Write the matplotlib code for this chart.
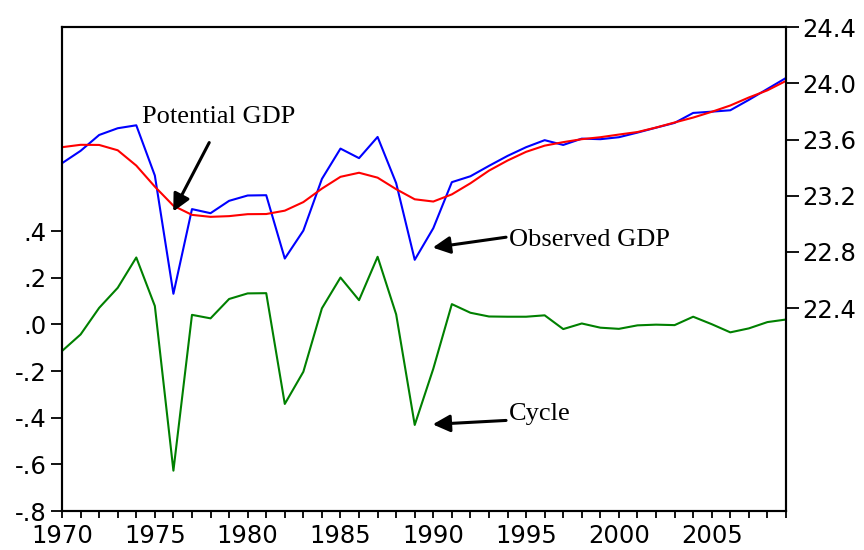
import matplotlib
matplotlib.use("Agg")
import matplotlib.pyplot as plt
from matplotlib.ticker import MultipleLocator, FixedLocator

years = list(range(1970, 2010))

# cycle (left axis)
cycle = [-0.114, -0.043, 0.071, 0.157, 0.287, 0.079, -0.627, 0.041, 0.026, 0.109,
         0.133, 0.134, -0.341, -0.203, 0.069, 0.201, 0.104, 0.290, 0.043, -0.431,
         -0.190, 0.087, 0.050, 0.034, 0.033, 0.033, 0.039, -0.020, 0.004, -0.014,
         -0.019, -0.004, -0.001, -0.003, 0.033, 0.001, -0.034, -0.017, 0.010, 0.021]

# observed GDP (right axis)
observed = [23.432, 23.520, 23.633, 23.681, 23.702, 23.344, 22.502, 23.105, 23.076, 23.164,
            23.202, 23.204, 22.753, 22.952, 23.320, 23.536, 23.468, 23.619, 23.290, 22.744,
            22.969, 23.297, 23.339, 23.413, 23.484, 23.546, 23.596, 23.562, 23.607, 23.603,
            23.617, 23.650, 23.685, 23.719, 23.790, 23.799, 23.809, 23.883, 23.961, 24.039]

# potential GDP (right axis)
potential = [23.546, 23.563, 23.562, 23.524, 23.415, 23.265, 23.129, 23.064, 23.050, 23.055,
             23.069, 23.070, 23.094, 23.155, 23.251, 23.335, 23.364, 23.329, 23.247, 23.175,
             23.159, 23.210, 23.289, 23.379, 23.451, 23.513, 23.557, 23.582, 23.603, 23.617,
             23.636, 23.654, 23.686, 23.722, 23.757, 23.798, 23.843, 23.900, 23.951, 24.018]

left_ticks = [-0.8, -0.6, -0.4, -0.2, 0.0, 0.2, 0.4]
left_labels = ["-.8", "-.6", "-.4", "-.2", ".0", ".2", ".4"]
right_ticks = [22.4, 22.8, 23.2, 23.6, 24.0, 24.4]
right_labels = ["22.4", "22.8", "23.2", "23.6", "24.0", "24.4"]

plt.rcParams['font.family'] = ['DejaVu Sans']

fig = plt.figure(figsize=(8.64, 5.5), dpi=100)
ax = fig.add_axes([0.0718, 0.0709, 0.8379, 0.8795])
ax2 = ax.twinx()

ax.plot(years, cycle, color='#008000', lw=1.5)
ax2.plot(years, observed, color='#0000ff', lw=1.5)
ax2.plot(years, potential, color='#ff0000', lw=1.5)

ax.set_xlim(1970, 2009)
ax.set_ylim(-0.8, 1.274)
ax2.set_ylim(20.955, 24.4)

ax.xaxis.set_major_locator(MultipleLocator(5))
ax.xaxis.set_minor_locator(MultipleLocator(1))
ax.yaxis.set_major_locator(FixedLocator(left_ticks))
ax.set_yticklabels(left_labels)
ax2.yaxis.set_major_locator(FixedLocator(right_ticks))
ax2.set_yticklabels(right_labels)

ax.tick_params(axis='x', which='both', direction='out', length=5, width=1.3,
               labelsize=17.5, pad=4)
ax.tick_params(axis='y', direction='out', length=8, width=1.3, labelsize=17.5, pad=3)
ax2.tick_params(axis='y', direction='out', length=9, width=1.3, labelsize=17.5, pad=3)

for a in (ax, ax2):
    for s in a.spines.values():
        s.set_linewidth(1.5)
        s.set_color('black')

serif = ['Liberation Serif', 'DejaVu Serif']
arrow = dict(arrowstyle='-|>', color='black', lw=2.2, mutation_scale=26, shrinkA=0, shrinkB=0)

ax2.text(1978.43, 23.761, "Potential GDP", family=serif, fontsize=19,
         ha='center', va='center')
ax2.annotate("", xy=(1975.99, 23.088), xytext=(1977.93, 23.579), arrowprops=arrow)

ax2.text(1994.08, 22.886, "Observed GDP", family=serif, fontsize=19,
         ha='left', va='center')
ax2.annotate("", xy=(1989.97, 22.831), xytext=(1993.92, 22.905), arrowprops=arrow)

ax2.text(1994.08, 21.648, "Cycle", family=serif, fontsize=19,
         ha='left', va='center')
ax2.annotate("", xy=(1989.97, 21.572), xytext=(1993.92, 21.600), arrowprops=arrow)

fig.savefig("out.png", dpi=100)
